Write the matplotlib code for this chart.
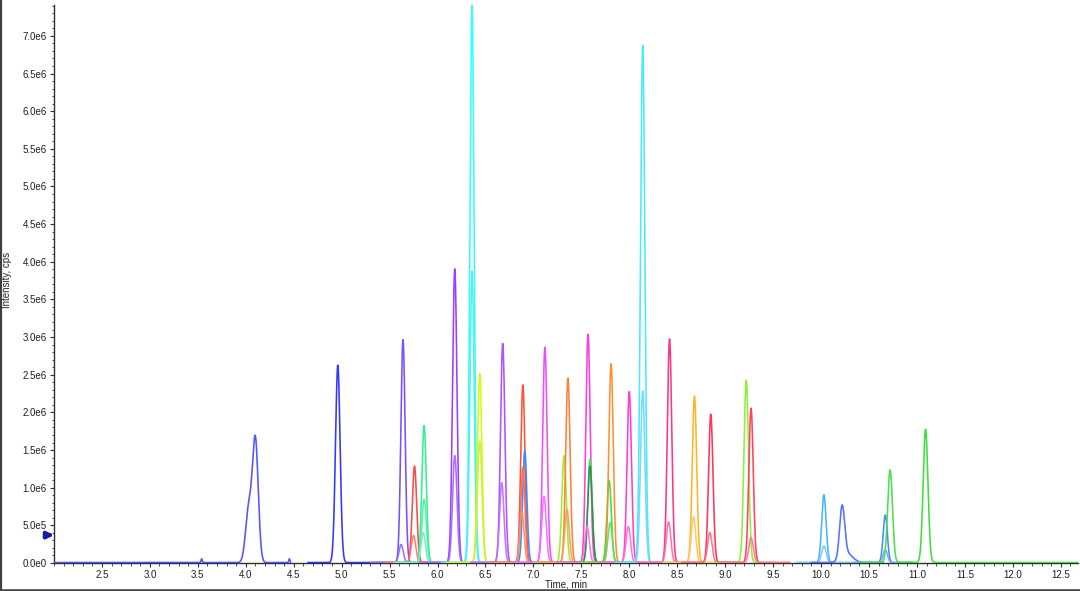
import numpy as np
import matplotlib
matplotlib.use("Agg")
import matplotlib.pyplot as plt
from matplotlib.ticker import MultipleLocator, FuncFormatter
import matplotlib.transforms as mtransforms

# ---------------- data ----------------
# traces (one per transition): colour and time window (min)
trace_color = ["#4a4aff", "#2a2aff", "#7048ff", "#8a70ff", "#ff4040", "#ff7878",
               "#28f08c", "#50f0a8", "#70f0c0", "#9933ff", "#aa66ff", "#28ffff",
               "#50f0e8", "#ccff00", "#d0ee40", "#b048ff", "#c070ff", "#ff4a2a",
               "#3388ff", "#ff6a50", "#ff9060", "#ee44ff", "#f070ff", "#99ee22",
               "#ff7a30", "#ff9a60", "#ff33dd", "#33ee44", "#338855", "#ff70e8",
               "#33dd44", "#ff8a22", "#60e060", "#ff33cc", "#ff70d8", "#40e8ff",
               "#70d8ff", "#ff2a80", "#ff70a8", "#ffb020", "#ffc860", "#ff2a50",
               "#ff7088", "#88f030", "#ff3a5a", "#ff7890", "#40b0ff", "#80c8ff",
               "#4a6aff", "#3a8aff", "#70a8ff", "#40e040", "#30e030"]
trace_start = [2.00, 4.65, 5.30, 5.30, 5.45, 5.45, 5.55, 5.55, 5.55, 5.85, 5.85, 6.05,
               6.05, 6.10, 6.10, 6.35, 6.35, 6.55, 6.55, 6.55, 6.55, 6.80, 6.80, 7.00,
               7.05, 7.05, 7.25, 7.25, 7.25, 7.25, 7.50, 7.50, 7.50, 7.70, 7.70, 7.85,
               7.85, 8.10, 8.10, 8.35, 8.35, 8.55, 8.55, 8.90, 8.95, 8.95, 9.75, 9.75,
               9.90, 10.35, 10.35, 10.40, 10.80]
trace_end = [4.47, 5.45, 5.95, 5.95, 6.05, 6.05, 6.15, 6.15, 6.15, 6.50, 6.50, 6.65,
             6.65, 6.75, 6.75, 6.95, 6.95, 7.20, 7.20, 7.20, 7.20, 7.40, 7.40, 7.60,
             7.65, 7.65, 7.85, 7.85, 7.85, 7.85, 8.10, 8.10, 8.10, 8.30, 8.30, 8.45,
             8.45, 8.70, 8.70, 9.00, 9.00, 9.15, 9.15, 9.50, 9.67, 9.67, 10.35, 10.35,
             10.65, 10.95, 10.95, 11.00, 12.68]

# peaks: trace index, retention time (min), height (cps, x1e6), width sigma (min)
peak_trace = [0, 0, 0, 0, 1, 2, 3, 4, 5, 6, 7, 8, 9, 10, 11, 12, 13, 14, 15, 16,
              17, 18, 19, 20, 21, 22, 23, 24, 25, 26, 27, 28, 29, 30, 31, 32, 33, 34,
              35, 36, 37, 38, 39, 40, 41, 42, 43, 44, 45, 46, 47, 48, 48, 49, 50, 51, 52]
peak_rt = [3.54, 4.03, 4.10, 4.455, 4.96, 5.64, 5.62, 5.76, 5.75, 5.86, 5.86, 5.85,
           6.18, 6.18, 6.36, 6.36, 6.44, 6.44, 6.68, 6.67, 6.89, 6.91, 6.89, 6.88,
           7.12, 7.11, 7.32, 7.36, 7.35, 7.57, 7.59, 7.59, 7.56, 7.79, 7.81, 7.80,
           8.00, 7.99, 8.14, 8.14, 8.42, 8.41, 8.68, 8.67, 8.85, 8.84, 9.22, 9.27,
           9.27, 10.03, 10.03, 10.22, 10.27, 10.67, 10.67, 10.72, 11.09]
peak_height = [0.05, 0.70, 1.62, 0.05, 2.62, 2.96, 0.24, 1.28, 0.36, 1.82, 0.84, 0.40,
               3.90, 1.42, 7.41, 3.87, 2.51, 1.61, 2.91, 1.06, 2.36, 1.48, 1.26, 0.68,
               2.86, 0.88, 1.42, 2.45, 0.71, 3.03, 1.37, 1.28, 0.48, 1.09, 2.64, 0.53,
               2.27, 0.48, 6.87, 2.28, 2.97, 0.54, 2.21, 0.61, 1.97, 0.40, 2.42, 2.05,
               0.33, 0.90, 0.22, 0.68, 0.12, 0.63, 0.17, 1.23, 1.77]
peak_sigma = [0.006, 0.032, 0.030, 0.006, 0.024, 0.022, 0.022, 0.023, 0.023, 0.023, 0.023, 0.023,
              0.023, 0.023, 0.022, 0.022, 0.023, 0.023, 0.023, 0.023, 0.022, 0.022, 0.022, 0.022,
              0.023, 0.023, 0.023, 0.023, 0.023, 0.023, 0.023, 0.023, 0.023, 0.023, 0.023, 0.023,
              0.023, 0.023, 0.023, 0.023, 0.023, 0.023, 0.023, 0.023, 0.023, 0.023, 0.024, 0.023,
              0.023, 0.023, 0.023, 0.026, 0.060, 0.022, 0.022, 0.025, 0.025]

y_ticks = [0.0, 0.5e6, 1.0e6, 1.5e6, 2.0e6, 2.5e6, 3.0e6, 3.5e6, 4.0e6, 4.5e6,
           5.0e6, 5.5e6, 6.0e6, 6.5e6, 7.0e6]
x_ticks = [2.5, 3.0, 3.5, 4.0, 4.5, 5.0, 5.5, 6.0, 6.5, 7.0, 7.5, 8.0, 8.5, 9.0,
           9.5, 10.0, 10.5, 11.0, 11.5, 12.0, 12.5]
marker_level = 0.37e6

# ---------------- figure ----------------
plt.rcParams["font.family"] = ["Liberation Sans", "DejaVu Sans"]
fig = plt.figure(figsize=(10.8, 5.91), dpi=100)
ax = fig.add_axes([54 / 1080, 28 / 591, (1078 - 54) / 1080, (563 - 5) / 591])

# draw traces
ptrace = np.array(peak_trace)
prt = np.array(peak_rt)
ph = np.array(peak_height) * 1e6
ps = np.array(peak_sigma)
for i, col in enumerate(trace_color):
    t = np.arange(trace_start[i], trace_end[i], 0.002)
    y = np.zeros_like(t) + 6000
    for j in np.where(ptrace == i)[0]:
        y += ph[j] * np.exp(-0.5 * ((t - prt[j]) / ps[j]) ** 2)
    ax.plot(t, y, color=col, lw=1.15, alpha=0.95, solid_joinstyle="round", zorder=3)

ax.set_xlim(2.0, 12.68)
ax.set_ylim(0, 7.41e6)

for s in ["top", "right"]:
    ax.spines[s].set_visible(False)
for s in ["left", "bottom"]:
    ax.spines[s].set_color("#303030")
    ax.spines[s].set_linewidth(1.0)

ax.set_yticks(y_ticks)
def yfmt(v, pos):
    if v == 0:
        return "0.0e0"
    e = int(np.floor(np.log10(v)))
    return "%.1fe%d" % (v / 10 ** e, e)
ax.yaxis.set_major_formatter(FuncFormatter(yfmt))
ax.yaxis.set_minor_locator(MultipleLocator(1e5))
ax.set_xticks(x_ticks)
ax.xaxis.set_major_formatter(FuncFormatter(lambda v, p: "%.1f" % v))
ax.xaxis.set_minor_locator(MultipleLocator(0.1))
ax.tick_params(axis="both", which="major", labelsize=7, length=3, width=0.8,
               color="#303030", labelcolor="#202020", pad=2)
ax.tick_params(axis="both", which="minor", length=1.8, width=0.6, color="#303030")

ax.set_xlabel("Time, min", fontsize=7, color="#202020", labelpad=0)
fig.text(7.5 / 1080, 1 - 280 / 591, "Intensity, cps", rotation=90, fontsize=7,
         color="#202020", ha="center", va="center")

# blue marker arrow on the y axis
trans = mtransforms.blended_transform_factory(ax.transAxes, ax.transData)
ax.annotate("", xy=(0.0, marker_level), xytext=(-0.0075, marker_level),
            xycoords=trans, textcoords=trans,
            arrowprops=dict(arrowstyle="-|>", color="#1a1aa8", lw=2.8,
                            mutation_scale=9, shrinkA=0, shrinkB=0),
            annotation_clip=False)

# window border (left and bottom edges of screenshot)
fig.add_artist(plt.Line2D([0.0008, 0.0008], [0, 1], transform=fig.transFigure,
                          color="#404040", lw=1.6))
fig.add_artist(plt.Line2D([0, 1], [0.0025, 0.0025], transform=fig.transFigure,
                          color="#404040", lw=1.8))

fig.savefig("out.png", dpi=100)
